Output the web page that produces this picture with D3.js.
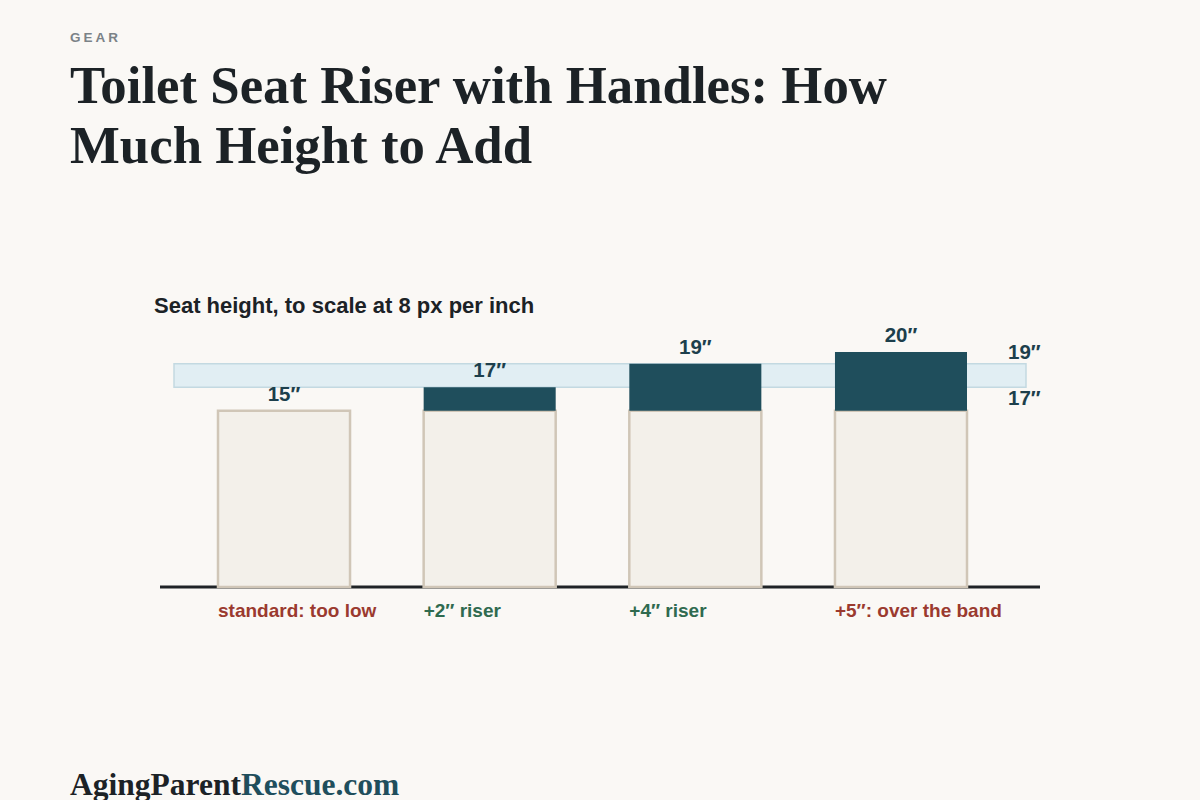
<!DOCTYPE html>
<html>
<head>
<meta charset="utf-8">
<script src="https://cdn.jsdelivr.net/npm/d3@7"></script>
<style>
  html, body { margin: 0; padding: 0; background: #faf8f5; }
  svg { display: block; }
</style>
</head>
<body>
<svg id="chart" width="1200" height="800"></svg>
<script>
// ---- data ----
const categories = ["standard: too low", "+2″ riser", "+4″ riser", "+5″: over the band"];
const baseHeight = [15, 15, 15, 15];
const riserHeight = [0, 2, 4, 5];
const verdict = ["bad", "good", "good", "bad"];
const bandRange = [17, 19];
const bandLabels = ["19″", "17″"];

const svg = d3.select("#chart");
const W = 1200, H = 800;
svg.append("rect").attr("width", W).attr("height", H).attr("fill", "#faf8f5");

const SANS = "Liberation Sans, Arial, sans-serif";
const SERIF = "Liberation Serif, 'DejaVu Serif', serif";

// header
svg.append("text").attr("x", 70).attr("y", 42)
  .attr("font-family", SANS).attr("font-weight", 700)
  .attr("font-size", 13.5).attr("letter-spacing", 3).attr("fill", "#7b8287").text("GEAR");

const titleLines = ["Toilet Seat Riser with Handles: How", "Much Height to Add"];
svg.append("g").selectAll("text").data(titleLines).join("text")
  .attr("x", 70).attr("y", (d, i) => 103 + i * 60)
  .attr("font-family", SERIF).attr("font-weight", 700)
  .attr("font-size", 52.8).attr("fill", "#1c2226").text(d => d);

svg.append("text").attr("x", 154).attr("y", 313)
  .attr("font-family", SANS).attr("font-weight", 700)
  .attr("font-size", 22).attr("fill", "#1c2226").text("Seat height, to scale at 8 px per inch");

// scales
const x = d3.scaleBand().domain(categories).range([218, 967]).paddingInner(0.358).paddingOuter(0);
const y = d3.scaleLinear().domain([0, 20]).range([587, 352]);

// band
svg.append("rect")
  .attr("x", 174).attr("width", 1026 - 174)
  .attr("y", y(bandRange[1])).attr("height", y(bandRange[0]) - y(bandRange[1]))
  .attr("fill", "#e1eef3").attr("stroke", "#c3d9e1").attr("stroke-width", 1.5);

svg.append("g").selectAll("text").data(bandLabels).join("text")
  .attr("x", 1008)
  .attr("y", (d, i) => i === 0 ? y(bandRange[1]) - 5 : y(bandRange[0]) + 18)
  .attr("font-family", SANS).attr("font-weight", 700)
  .attr("font-size", 20.5).attr("fill", "#1d3f4c").text(d => d);

// baseline
svg.append("line").attr("x1", 160).attr("x2", 1040).attr("y1", y(0)).attr("y2", y(0))
  .attr("stroke", "#1f2326").attr("stroke-width", 3);

const g = svg.append("g");
// base bars
g.selectAll("rect.base").data(categories).join("rect").attr("class", "base")
  .attr("x", d => x(d)).attr("width", x.bandwidth())
  .attr("y", (d, i) => y(baseHeight[i])).attr("height", (d, i) => y(0) - y(baseHeight[i]))
  .attr("fill", "#f3f0ea").attr("stroke", "#d0c6b7").attr("stroke-width", 2.5);

// risers
g.selectAll("rect.riser").data(categories.filter((d, i) => riserHeight[i] > 0)).join("rect").attr("class", "riser")
  .attr("x", d => x(d)).attr("width", x.bandwidth())
  .attr("y", d => { const i = categories.indexOf(d); return y(baseHeight[i] + riserHeight[i]); })
  .attr("height", d => { const i = categories.indexOf(d); return y(baseHeight[i]) - y(baseHeight[i] + riserHeight[i]); })
  .attr("fill", "#1f4e5c");

// value labels
g.selectAll("text.val").data(categories).join("text").attr("class", "val")
  .attr("x", d => x(d) + x.bandwidth() / 2)
  .attr("y", (d, i) => y(baseHeight[i] + riserHeight[i]) - 10)
  .attr("text-anchor", "middle")
  .attr("font-family", SANS).attr("font-weight", 700)
  .attr("font-size", 20.5).attr("fill", "#1d3f4c")
  .text((d, i) => (baseHeight[i] + riserHeight[i]) + "″");

// category labels
g.selectAll("text.cat").data(categories).join("text").attr("class", "cat")
  .attr("x", d => x(d)).attr("y", 617)
  .attr("font-family", SANS).attr("font-weight", 700)
  .attr("font-size", 19).attr("fill", (d, i) => verdict[i] === "bad" ? "#9b3a2f" : "#2f6a4f")
  .text(d => d);

// footer
const f = svg.append("text").attr("x", 70).attr("y", 795)
  .attr("font-family", SERIF).attr("font-weight", 700)
  .attr("font-size", 31.5);
f.append("tspan").attr("fill", "#1c2226").text("AgingParent");
f.append("tspan").attr("fill", "#1f4e5c").text("Rescue.com");
</script>
</body>
</html>
